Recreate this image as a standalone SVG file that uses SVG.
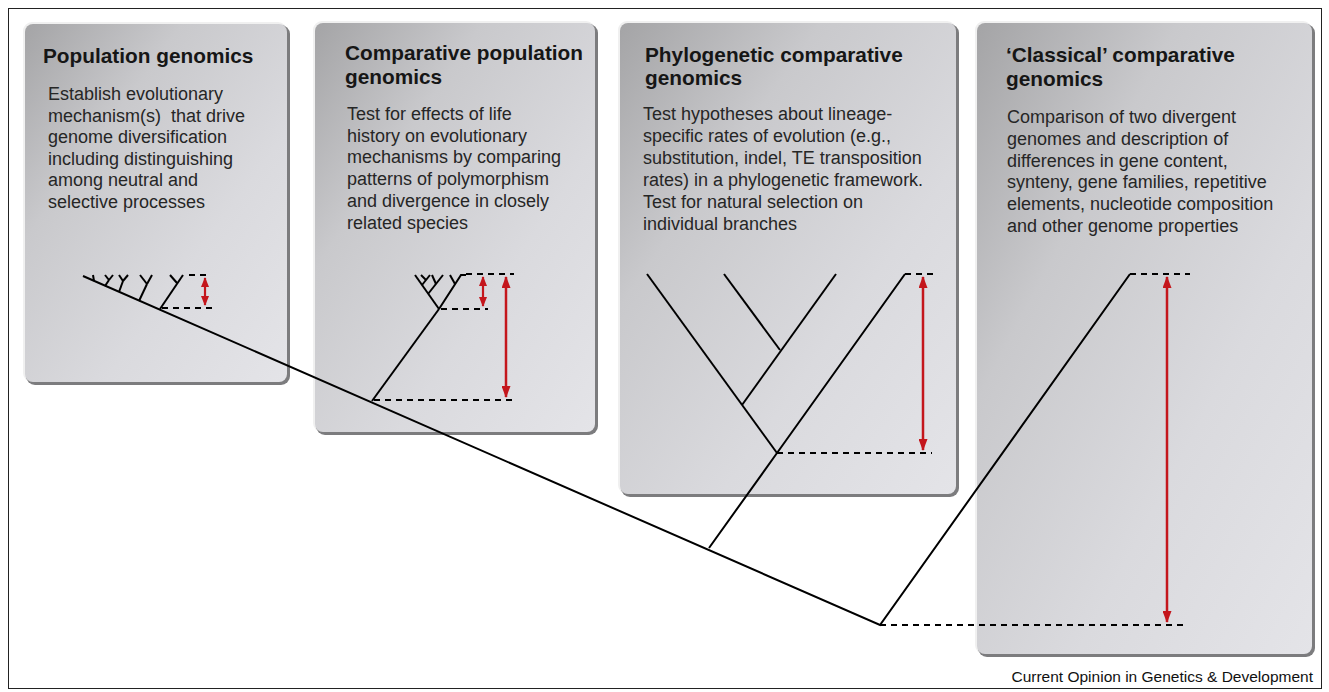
<svg xmlns="http://www.w3.org/2000/svg" width="1329" height="692" viewBox="0 0 1329 692">
<defs>
<linearGradient id="pg" x1="0" y1="0" x2="1" y2="1">
<stop offset="0" stop-color="#a4a4a6"/>
<stop offset="0.3" stop-color="#c9c9cc"/>
<stop offset="0.65" stop-color="#dadade"/>
<stop offset="1" stop-color="#e4e4e8"/>
</linearGradient>
<marker id="ah" viewBox="0 0 12 9" refX="11" refY="4.5" markerWidth="12" markerHeight="9" markerUnits="userSpaceOnUse" orient="auto-start-reverse">
<path d="M0,0 L12,4.5 L0,9 z" fill="#c4161c"/>
</marker>
<marker id="ahs" viewBox="0 0 10 8" refX="9" refY="4" markerWidth="10" markerHeight="8" markerUnits="userSpaceOnUse" orient="auto-start-reverse">
<path d="M0,0 L10,4 L0,8 z" fill="#c4161c"/>
</marker>
</defs>
<style>
.sh{fill:#7c7c7e}
.hl{fill:#f0f0f0}
.pn{fill:url(#pg)}
.ttl{font-family:"Liberation Sans",Arial,sans-serif;font-weight:bold;font-size:20.8px;fill:#161616}
.bd{font-family:"Liberation Sans",Arial,sans-serif;font-size:18px;fill:#262626}
.cr{font-family:"Liberation Sans",Arial,sans-serif;font-size:15.5px;fill:#111}
.ln{stroke:#000;stroke-width:2;fill:none;stroke-linecap:butt}
.ds{stroke:#000;stroke-width:2;fill:none;stroke-dasharray:6 5}
.ar{stroke:#c4161c;stroke-width:2.5;fill:none;marker-start:url(#ah);marker-end:url(#ah)}
.as{stroke:#c4161c;stroke-width:2.2;fill:none;marker-start:url(#ahs);marker-end:url(#ahs)}
</style>
<rect x="0" y="0" width="1329" height="692" fill="#fff"/>
<rect x="8.5" y="8.5" width="1313" height="680" fill="none" stroke="#222" stroke-width="1"/>

<g id="panel-population">
<rect class="hl" x="23" y="22" width="264" height="360" rx="9"/>
<rect class="sh" x="26" y="25" width="264" height="360" rx="9"/>
<rect class="pn" x="25" y="24" width="262" height="358" rx="8"/>
<text class="ttl" x="43" y="63">Population genomics</text>
<text class="bd"><tspan x="48" y="100">Establish evolutionary</tspan><tspan x="48" y="121.6">mechanism(s)&#160; that drive</tspan><tspan x="48" y="143.2">genome diversification</tspan><tspan x="48" y="164.8">including distinguishing</tspan><tspan x="48" y="186.4">among neutral and</tspan><tspan x="48" y="208">selective processes</tspan></text>
</g>

<g id="panel-comparative-population">
<rect class="hl" x="313" y="21" width="282" height="411" rx="9"/>
<rect class="sh" x="316" y="24" width="282" height="411" rx="9"/>
<rect class="pn" x="315" y="23" width="280" height="409" rx="8"/>
<text class="ttl"><tspan x="345" y="60">Comparative population</tspan><tspan x="345" y="84">genomics</tspan></text>
<text class="bd"><tspan x="347" y="120">Test for effects of life</tspan><tspan x="347" y="141.7">history on evolutionary</tspan><tspan x="347" y="163.4">mechanisms by comparing</tspan><tspan x="347" y="185.1">patterns of polymorphism</tspan><tspan x="347" y="206.8">and divergence in closely</tspan><tspan x="347" y="228.5">related species</tspan></text>
</g>

<g id="panel-phylogenetic">
<rect class="hl" x="618" y="21" width="338" height="473" rx="9"/>
<rect class="sh" x="621" y="24" width="338" height="473" rx="9"/>
<rect class="pn" x="620" y="23" width="336" height="471" rx="8"/>
<text class="ttl"><tspan x="645" y="61.5">Phylogenetic comparative</tspan><tspan x="645" y="85">genomics</tspan></text>
<text class="bd"><tspan x="643" y="120">Test hypotheses about lineage-</tspan><tspan x="643" y="142">specific rates of evolution (e.g.,</tspan><tspan x="643" y="164">substitution, indel, TE transposition</tspan><tspan x="643" y="186">rates) in a phylogenetic framework.</tspan><tspan x="643" y="208">Test for natural selection on</tspan><tspan x="643" y="230">individual branches</tspan></text>
</g>

<g id="panel-classical">
<rect class="hl" x="975" y="21" width="337" height="633" rx="9"/>
<rect class="sh" x="978" y="24" width="337" height="633" rx="9"/>
<rect class="pn" x="977" y="23" width="335" height="631" rx="8"/>
<text class="ttl"><tspan x="1006" y="62">‘Classical’ comparative</tspan><tspan x="1006" y="86">genomics</tspan></text>
<text class="bd"><tspan x="1007" y="123">Comparison of two divergent</tspan><tspan x="1007" y="145">genomes and description of</tspan><tspan x="1007" y="166.5">differences in gene content,</tspan><tspan x="1007" y="188">synteny, gene families, repetitive</tspan><tspan x="1007" y="210">elements, nucleotide composition</tspan><tspan x="1007" y="232">and other genome properties</tspan></text>
</g>

<g id="connectors">
<polyline class="ln" points="83,276 880,625 1130,274"/>
<line class="ds" x1="1130" y1="274" x2="1190" y2="274"/>
<line class="ds" x1="880" y1="625" x2="1186" y2="625"/>
<line class="ar" x1="1167" y1="277" x2="1167" y2="622"/>

<polyline class="ln" points="709,548 777,453 905,274"/>
<line class="ds" x1="905" y1="274" x2="937" y2="274"/>
<line class="ln" x1="647" y1="274" x2="777" y2="453"/>
<line class="ln" x1="742" y1="405" x2="836" y2="274"/>
<line class="ln" x1="724" y1="274" x2="780" y2="350"/>
<line class="ds" x1="777" y1="453" x2="932" y2="453"/>
<line class="ar" x1="923" y1="277" x2="923" y2="450"/>

<line class="ln" x1="372" y1="401" x2="439" y2="309"/>
<line class="ln" x1="439" y1="309" x2="415" y2="275"/>
<polyline class="ln" points="439,309 461,275 466,275"/>
<line class="ln" x1="422" y1="285" x2="430" y2="275"/>
<line class="ln" x1="426" y1="280" x2="421" y2="275"/>
<line class="ln" x1="428" y1="294" x2="443" y2="275"/>
<line class="ln" x1="436" y1="284" x2="432" y2="275"/>
<line class="ln" x1="455" y1="284" x2="450" y2="275"/>
<line class="ds" x1="466" y1="274" x2="514" y2="274"/>
<line class="ds" x1="441" y1="309" x2="488" y2="309"/>
<line class="ds" x1="374" y1="400" x2="515" y2="400"/>
<line class="as" x1="483" y1="277" x2="483" y2="306"/>
<line class="ar" x1="506" y1="277" x2="506" y2="397"/>

<line class="ln" x1="94" y1="281" x2="93" y2="275"/>
<line class="ln" x1="105" y1="286" x2="109" y2="280"/>
<line class="ln" x1="109" y1="280" x2="105" y2="275"/>
<line class="ln" x1="109" y1="280" x2="113" y2="275"/>
<line class="ln" x1="119" y1="292" x2="123" y2="281"/>
<line class="ln" x1="123" y1="281" x2="119" y2="275"/>
<line class="ln" x1="123" y1="281" x2="128" y2="275"/>
<line class="ln" x1="139" y1="301" x2="147" y2="284"/>
<line class="ln" x1="147" y1="284" x2="140" y2="275"/>
<line class="ln" x1="147" y1="284" x2="152" y2="275"/>
<line class="ln" x1="160" y1="309" x2="183" y2="275"/>
<line class="ln" x1="177" y1="283" x2="170" y2="275"/>
<line class="ds" x1="189" y1="275" x2="211" y2="275"/>
<line class="ds" x1="162" y1="308" x2="212" y2="308"/>
<line class="as" x1="205" y1="278" x2="205" y2="305"/>
</g>

<text class="cr" x="1313" y="682" text-anchor="end">Current Opinion in Genetics &amp; Development</text>
</svg>
